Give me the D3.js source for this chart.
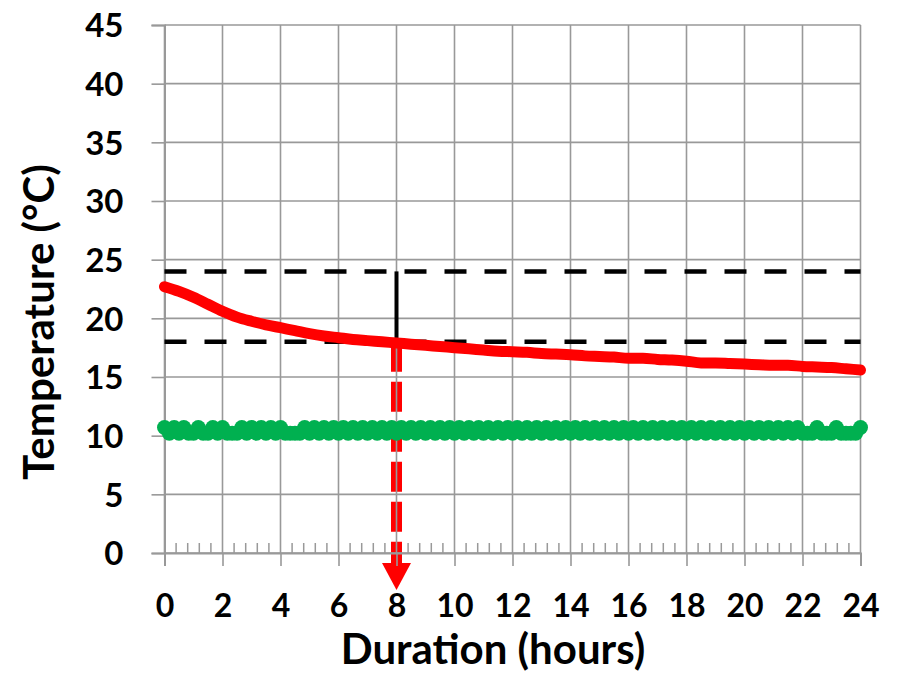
<!DOCTYPE html>
<html>
<head>
<meta charset="utf-8">
<script src="https://cdn.jsdelivr.net/npm/d3@7/dist/d3.min.js"></script>
<style>
  html, body { margin: 0; padding: 0; background: #fff; }
  svg { display: block; font-family: Lato, "Open Sans", sans-serif; font-weight: 700; }
</style>
</head>
<body>
<svg id="chart" width="897" height="673"></svg>
<script>
// ---- data ----
const xTicks = [0, 2, 4, 6, 8, 10, 12, 14, 16, 18, 20, 22, 24];
const yTicks = [0, 5, 10, 15, 20, 25, 30, 35, 40, 45];

// red series: half-hourly readings
const redHours = [0,0.5,1,1.5,2,2.5,3,3.5,4,4.5,5,5.5,6,6.5,7,7.5,8,8.5,9,9.5,10,10.5,11,11.5,12,
                  12.5,13,13.5,14,14.5,15,15.5,16,16.5,17,17.5,18,18.5,19,19.5,20,20.5,21,21.5,22,22.5,23,23.5,24];
const redTemps = [22.7,22.3,21.8,21.2,20.6,20.1,19.75,19.45,19.2,18.95,18.7,18.5,18.35,18.2,18.1,18.0,17.9,17.8,17.7,17.6,17.5,
                  17.4,17.3,17.2,17.15,17.1,17.0,16.95,16.9,16.8,16.75,16.7,16.6,16.6,16.5,16.45,16.35,16.2,16.2,16.15,16.1,
                  16.05,16.0,16.0,15.9,15.85,15.8,15.7,15.6];

// green series: 10-minute readings
const greenStepHours = 1 / 6;
const greenTemps = [
  10.7,10.2,10.7,10.2,10.7,10.2,10.2,10.7,10.2,10.2,
  10.7,10.2,10.7,10.2,10.2,10.2,10.7,10.2,10.7,10.2,
  10.7,10.2,10.7,10.2,10.7,10.2,10.2,10.2,10.2,10.7,
  10.2,10.7,10.2,10.7,10.2,10.7,10.2,10.7,10.2,10.7,
  10.2,10.7,10.2,10.7,10.2,10.7,10.2,10.7,10.2,10.7,
  10.2,10.7,10.2,10.7,10.2,10.7,10.2,10.7,10.2,10.7,
  10.2,10.7,10.2,10.7,10.2,10.7,10.2,10.7,10.2,10.7,
  10.2,10.7,10.2,10.7,10.2,10.7,10.2,10.7,10.2,10.7,
  10.2,10.7,10.2,10.7,10.2,10.7,10.2,10.7,10.2,10.7,
  10.2,10.7,10.2,10.7,10.2,10.7,10.2,10.7,10.2,10.7,
  10.2,10.7,10.2,10.7,10.2,10.7,10.2,10.7,10.2,10.7,
  10.2,10.7,10.2,10.7,10.2,10.7,10.2,10.7,10.2,10.7,
  10.2,10.7,10.2,10.7,10.2,10.7,10.2,10.7,10.2,10.7,
  10.2,10.7,10.2,10.2,10.2,10.7,10.2,10.2,10.2,10.7,
  10.2,10.2,10.2,10.2,10.7
];

// reference band and marked duration
const bandUpper = 24;
const bandLower = 18;
const markedHour = 8;

const xLabel = "Duration (hours)";
const yLabel = "Temperature (°C)";

// ---- drawing ----
const svg = d3.select("#chart");
const x = d3.scaleLinear().domain([0, 24]).range([164.5, 860.5]);
const y = d3.scaleLinear().domain([0, 45]).range([553, 25]);
const gridColor = "#999999";

const greenData = greenTemps.map((v, i) => ({ h: i * greenStepHours, v }));
const redData = redHours.map((h, i) => ({ h, v: redTemps[i] }));

// red arrow (behind gridlines)
const arrow = svg.append("g");
arrow.append("line")
  .attr("x1", x(markedHour)).attr("x2", x(markedHour))
  .attr("y1", y(bandLower)).attr("y2", y(0) + 14)
  .attr("stroke", "#ff0000").attr("stroke-width", 11)
  .attr("stroke-dasharray", "30,10");
arrow.append("path")
  .attr("d", `M${x(markedHour) - 14.5},${y(0) + 10} L${x(markedHour) + 14.5},${y(0) + 10} L${x(markedHour)},${y(0) + 37} Z`)
  .attr("fill", "#ff0000");

// gridlines
const grid = svg.append("g");
grid.selectAll(".gx").data(xTicks).join("line")
  .attr("x1", d => x(d)).attr("x2", d => x(d))
  .attr("y1", y(45)).attr("y2", y(0))
  .attr("stroke", gridColor).attr("stroke-width", 1.6);
grid.selectAll(".gy").data(yTicks).join("line")
  .attr("x1", x(0)).attr("x2", x(24))
  .attr("y1", d => y(d)).attr("y2", d => y(d))
  .attr("stroke", gridColor).attr("stroke-width", 1.6);

// minor x ticks (inside)
const minor = d3.range(0, 24.001, 0.4).filter(h => Math.abs(h / 2 - Math.round(h / 2)) > 0.01);
grid.selectAll(".mx").data(minor).join("line")
  .attr("x1", d => x(d)).attr("x2", d => x(d))
  .attr("y1", y(0)).attr("y2", y(0) - 10)
  .attr("stroke", gridColor).attr("stroke-width", 1.5);

// axes
const xAxis = svg.append("g").attr("transform", `translate(0,${y(0)})`)
  .call(d3.axisBottom(x).tickValues(xTicks).tickSize(13).tickPadding(28).tickFormat(d3.format("d")));
const yAxis = svg.append("g").attr("transform", `translate(${x(0)},0)`)
  .call(d3.axisLeft(y).tickValues(yTicks).tickSize(13).tickPadding(28).tickFormat(d3.format("d")));
[xAxis, yAxis].forEach(a => {
  a.select(".domain").attr("stroke", gridColor).attr("stroke-width", 2);
  a.selectAll(".tick line").attr("stroke", gridColor).attr("stroke-width", 1.6);
  a.selectAll(".tick text").attr("fill", "#000").style("font-size", "32px").style("font-family", "Lato, sans-serif").style("font-weight", 700);
});
yAxis.selectAll(".tick text").attr("dy", "0.36em").style("font-size", "33px");

// reference dashed lines
svg.selectAll(".band").data([bandUpper, bandLower]).join("line")
  .attr("x1", x(0)).attr("x2", x(24))
  .attr("y1", d => y(d)).attr("y2", d => y(d))
  .attr("stroke", "#000").attr("stroke-width", 4.5)
  .attr("stroke-dasharray", "22,18");

// black vertical connector
svg.append("line")
  .attr("x1", x(markedHour)).attr("x2", x(markedHour))
  .attr("y1", y(bandUpper)).attr("y2", y(bandLower))
  .attr("stroke", "#000").attr("stroke-width", 4);

// red curve
svg.append("path").datum(redData)
  .attr("d", d3.line().x(d => x(d.h)).y(d => y(d.v)).curve(d3.curveMonotoneX))
  .attr("fill", "none").attr("stroke", "#ff0000").attr("stroke-width", 11)
  .attr("stroke-linecap", "round").attr("stroke-linejoin", "round");

// green markers
svg.append("g").selectAll("circle").data(greenData).join("circle")
  .attr("cx", d => x(d.h)).attr("cy", d => y(d.v)).attr("r", 7.5)
  .attr("fill", "#00b050");

// axis titles
svg.append("text")
  .attr("x", 493).attr("y", 664)
  .attr("text-anchor", "middle")
  .style("font-size", "42px")
  .text(xLabel);
svg.append("text")
  .attr("transform", `translate(54,322) rotate(-90)`)
  .attr("text-anchor", "middle")
  .style("font-size", "42px")
  .text(yLabel);
</script>
</body>
</html>
